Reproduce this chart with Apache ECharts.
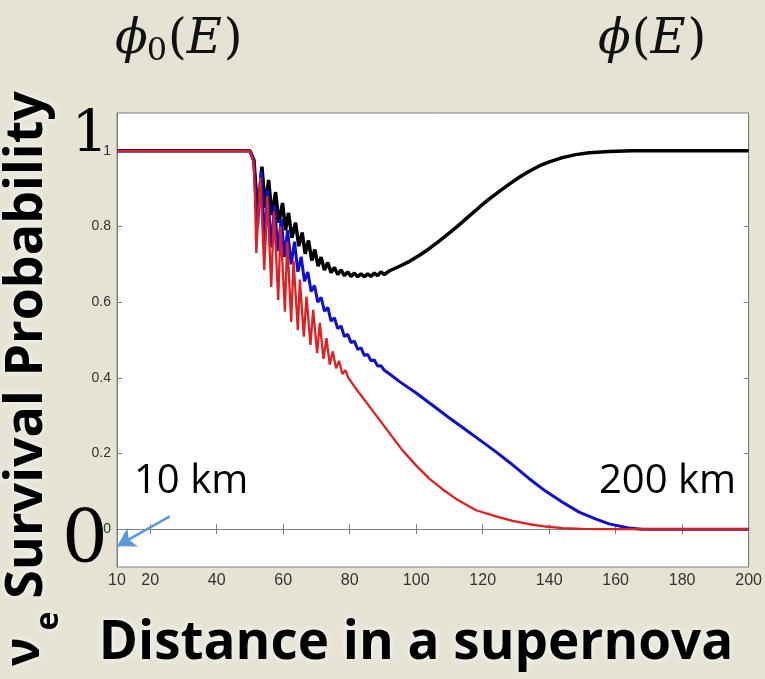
<!DOCTYPE html>
<html>
<head>
<meta charset="utf-8">
<script src="https://cdn.jsdelivr.net/npm/echarts@6/dist/echarts.min.js"></script>
<style>html,body{margin:0;padding:0;background:#e6e3d4;}#c{width:765px;height:679px;}</style>
</head>
<body>
<div id="c"></div>
<script>
// ---- data ----
const xTickLabels = [10, 20, 40, 60, 80, 100, 120, 140, 160, 180, 200];
const xTicks = [20, 40, 60, 80, 100, 120, 140, 160, 180];
const yTicks = [0, 0.2, 0.4, 0.6, 0.8, 1];

const blackCurve = [
  [10,1],[50,1],[50.6,0.997],[51.2,0.975],[51.8,0.9],[52.5,0.85],[53.6,0.958],[54.6,0.85],[55.6,0.923],[56.6,0.83],
  [57.7,0.891],[58.7,0.81],[59.8,0.862],[60.7,0.79],[61.6,0.836],[62.6,0.77],[63.7,0.810],[64.7,0.748],
  [65.7,0.784],[66.6,0.728],[67.6,0.763],[68.6,0.71],[69.5,0.739],[70.5,0.695],[71.4,0.719],[72.4,0.685],
  [73.4,0.705],[74.4,0.678],[75.4,0.692],[76.4,0.673],[77.4,0.685],[78.4,0.670],[79.4,0.680],[80.4,0.668],
  [81.4,0.677],[82.4,0.667],[83.4,0.675],[84.4,0.667],[85.4,0.675],[86.4,0.668],[87.4,0.677],[88.4,0.670],
  [89.4,0.680],[90.4,0.673],[92,0.683],[95,0.695],[98,0.708],[101,0.724],[104,0.742],[107,0.762],[110,0.783],
  [113,0.805],[116,0.828],[119,0.851],[122,0.873],[125,0.893],[128,0.912],[131,0.93],[134,0.946],[137,0.96],
  [140,0.971],[144,0.982],[148,0.99],[152,0.995],[158,0.998],[165,1.0],[200,1.0]
];

const blueCurve = [
  [10,1],[50,1],[50.6,0.996],[51.2,0.97],[51.8,0.86],[52.3,0.80],[53.4,0.948],[54.4,0.75],[55.3,0.896],[56.4,0.745],
  [57.4,0.856],[58.4,0.735],[59.4,0.82],[60.4,0.72],[61.3,0.79],[62.4,0.70],[63.4,0.76],[64.4,0.68],
  [65.4,0.72],[66.4,0.655],[67.4,0.68],[68.4,0.628],[69.4,0.644],[70.4,0.60],[71.4,0.613],[72.4,0.576],
  [73.4,0.586],[74.4,0.55],[75.4,0.559],[76.4,0.53],[77.4,0.537],[78.4,0.509],[79.4,0.515],[80.4,0.493],
  [81.4,0.497],[82.4,0.475],[83.4,0.479],[84.4,0.459],[85.4,0.462],[86.4,0.445],[87.4,0.447],[88.4,0.431],
  [89.4,0.432],[90.4,0.42],[92,0.41],[95,0.39],[100,0.36],[105,0.327],[110,0.294],[115,0.262],[120,0.23],
  [123.9,0.205],[128,0.177],[133.9,0.134],[139,0.1],[143.9,0.072],[149,0.045],[153.9,0.027],[158,0.014],
  [163.9,0.003],[168,0],[200,0]
];

const redCurve = [
  [10,1],[50,1],[50.6,0.995],[51.1,0.97],[51.5,0.88],[51.9,0.73],[53.1,0.93],[54.3,0.685],[55.2,0.88],[56.4,0.64],
  [57.2,0.84],[58.5,0.606],[59.2,0.80],[60.5,0.575],[61.2,0.76],[62.4,0.548],[63.1,0.71],[64.4,0.526],
  [65.0,0.66],[66.2,0.509],[67.0,0.615],[68.2,0.487],[69.0,0.58],[70.2,0.465],[71.0,0.545],[72.1,0.45],
  [73.0,0.505],[74.0,0.435],[74.9,0.47],[75.9,0.425],[76.8,0.445],[77.8,0.41],[78.7,0.42],[79.6,0.40],
  [82,0.37],[85,0.335],[88,0.30],[91,0.265],[94,0.23],[96,0.207],[100,0.168],[104,0.133],[108,0.105],
  [112,0.08],[114,0.07],[118,0.05],[124,0.034],[129,0.022],[134,0.013],[139,0.007],[144,0.003],[150,0.001],
  [160,0],[200,0]
];

const arrowFrom = [25.9, 0.034];
const arrowTo = [10, -0.045];

// ---- helpers ----
const sans = "'Open Sans', 'Noto Sans', sans-serif";
const serif = "'DejaVu Serif', 'Liberation Serif', serif";
const halo = {textShadowColor: 'rgba(255,255,255,0.95)', textShadowBlur: 7};
const mctx = document.createElement('canvas').getContext('2d');
function measure(text, font) { mctx.font = font; return mctx.measureText(text).width; }

// lay out a math-like label from pieces, left to right
function mathLabel(startX, midY, pieces) {
  let x = startX;
  const out = [];
  pieces.forEach(p => {
    x += (p.gapBefore || 0);
    out.push({type: 'text', x: x, y: midY + (p.dy || 0),
      style: {text: p.t, font: p.font, fill: '#111', align: 'left', verticalAlign: 'middle'}});
    x += measure(p.t, p.font) + (p.gapAfter || 0);
  });
  return out;
}
const fMain = '48px ' + serif;
const fIt = 'italic 48px ' + serif;
const fSub = '32px ' + serif;

const phi0 = mathLabel(115, 41, [
  {t: 'ϕ', font: fIt},
  {t: '0', font: fSub, dy: 11, gapBefore: -1},
  {t: '(', font: fMain, gapBefore: 1},
  {t: 'E', font: fIt, gapBefore: 0},
  {t: ')', font: fMain, gapBefore: 2}
]);
const phi = mathLabel(598, 41, [
  {t: 'ϕ', font: fIt},
  {t: '(', font: fMain, gapBefore: 1},
  {t: 'E', font: fIt},
  {t: ')', font: fMain, gapBefore: 2}
]);

// ---- chart ----
const chart = echarts.init(document.getElementById('c'), null, {renderer: 'canvas'});

const axisLine = {show: true, lineStyle: {color: '#808080', width: 1}};
const option = {
  animation: false,
  backgroundColor: '#e6e3d4',
  grid: {left: 117, right: 15, top: 113, bottom: 112, show: true, backgroundColor: '#ffffff', borderColor: '#808080', borderWidth: 1},
  xAxis: [
    {type: 'value', min: 10, max: 200, position: 'bottom', axisLine: axisLine, splitLine: {show: false},
      axisTick: {show: true, inside: true, length: 5, lineStyle: {color: '#808080'}, customValues: xTicks},
      axisLabel: {show: true, customValues: xTickLabels, color: '#333', fontSize: 16, margin: 6,
        fontFamily: "'Liberation Sans Narrow', 'Liberation Sans', Arial, sans-serif"}},
    {type: 'value', min: 10, max: 200, position: 'top', axisLine: axisLine, splitLine: {show: false},
      axisTick: {show: true, inside: true, length: 5, lineStyle: {color: '#808080'}, customValues: xTicks},
      axisLabel: {show: false}}
  ],
  yAxis: [
    {type: 'value', min: -0.1, max: 1.1, position: 'left', axisLine: axisLine, splitLine: {show: false},
      axisTick: {show: true, inside: true, length: 5, lineStyle: {color: '#808080'}, customValues: yTicks},
      axisLabel: {show: true, customValues: yTicks, color: '#333', fontSize: 14, margin: 6,
        fontFamily: "'Liberation Sans', Arial, sans-serif", formatter: v => String(+v.toFixed(1))}},
    {type: 'value', min: -0.1, max: 1.1, position: 'right', axisLine: axisLine, splitLine: {show: false},
      axisTick: {show: true, inside: true, length: 5, lineStyle: {color: '#808080'}, customValues: yTicks},
      axisLabel: {show: false}}
  ],
  series: [
    {type: 'line', name: 'black', data: blackCurve, showSymbol: false, symbol: 'none',
      lineStyle: {color: '#000000', width: 3.5}, z: 2},
    {type: 'line', name: 'blue', data: blueCurve, showSymbol: false, symbol: 'none',
      lineStyle: {color: '#1010cc', width: 3}, z: 3},
    {type: 'line', name: 'red', data: redCurve, showSymbol: false, symbol: 'none',
      lineStyle: {color: '#e02020', width: 2.3}, z: 4,
      markLine: {
        silent: true, symbol: ['none', 'arrow'], symbolSize: [16, 18],
        lineStyle: {color: '#5b9bd5', width: 2.5, type: 'solid'},
        label: {show: false},
        data: [[{coord: arrowFrom}, {coord: arrowTo}]]
      }}
  ],
  graphic: phi0.concat(phi).concat([
    // big 1 and 0
    {type: 'text', x: 90, y: 165, style: {text: '1', font: '58px ' + serif, fill: '#000', align: 'center', verticalAlign: 'bottom'}},
    {type: 'text', x: 85, y: 579, style: {text: '0', font: '72px ' + serif, fill: '#000', align: 'center', verticalAlign: 'bottom'}},
    // annotations
    {type: 'text', x: 134, y: 482, style: {text: '10 km', font: '40px ' + sans, fill: '#000', align: 'left', verticalAlign: 'middle'}},
    {type: 'text', x: 736, y: 482, style: {text: '200 km', font: '40px ' + sans, fill: '#000', align: 'right', verticalAlign: 'middle'}},
    // axis titles
    {type: 'text', x: 416, y: 644, style: Object.assign({text: 'Distance in a supernova', font: 'bold 53px ' + sans, fill: '#000', align: 'center', verticalAlign: 'middle'}, halo)},
    {type: 'text', x: 27, y: 345, rotation: Math.PI / 2, style: Object.assign({text: 'Survival Probability', font: 'bold 52px ' + sans, fill: '#000', align: 'center', verticalAlign: 'middle'}, halo)},
    {type: 'text', x: 25, y: 652, rotation: Math.PI / 2, style: Object.assign({text: 'ν', font: 'bold 48px ' + sans, fill: '#000', align: 'center', verticalAlign: 'middle'}, halo)},
    {type: 'text', x: 49, y: 621, rotation: Math.PI / 2, style: Object.assign({text: 'e', font: 'bold 32px ' + sans, fill: '#000', align: 'center', verticalAlign: 'middle'}, halo)}
  ])
};
chart.setOption(option);
</script>
</body>
</html>
